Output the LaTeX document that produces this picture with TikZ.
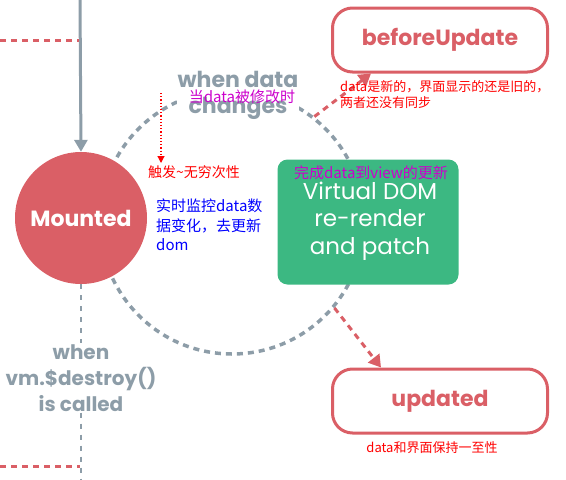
\documentclass[tikz,border=0pt]{standalone}
\usepackage{fontspec}
\setmainfont{Poppins}
\newfontfamily\cjk{Noto Sans CJK SC}
\usetikzlibrary{arrows.meta}
\definecolor{vred}{HTML}{DA5F66}
\definecolor{vgray}{HTML}{8D9DA8}
\definecolor{vgreen}{HTML}{3CB882}
\definecolor{vmag}{HTML}{CC00CC}
\tikzset{
  hook/.style={draw=vred, line width=3pt, rounded corners=20pt, fill=white,
    minimum width=215pt, minimum height=64pt, text=vred,
    font=\fontsize{22}{26}\selectfont\bfseries},
  grayline/.style={vgray, line width=3.5pt, dash pattern=on 6pt off 5pt},
  redline/.style={vred, line width=3pt, dash pattern=on 6pt off 5pt},
  bigtip/.style={-{Triangle[length=12pt, width=14pt]}},
  caption/.style={text=vgray, align=center, inner sep=1pt,
    font=\fontsize{22}{26}\selectfont\bfseries},
  note/.style={inner sep=0pt, font=\cjk\fontsize{13}{16}\selectfont},
}
\begin{document}
\begin{tikzpicture}[x=1pt, y=-1pt]
    \useasboundingbox (0,0) rectangle (566,480);
    % the update loop
    \node[grayline, draw, circle, minimum size=264pt] (loop) at (232,222) {};
    \node[caption, fill=white] (changes) at (238,95) {when data\\changes};
    \node[note, text=vmag, font=\cjk\fontsize{15}{18}\selectfont] (changed) at (242,97) {当data被修改时};

    \node[circle, fill=vred, minimum size=132pt, text=white,
        font=\fontsize{22}{26}\selectfont\bfseries] (mounted) at (81,218) {Mounted};
    \node[fill=vgreen, rounded corners=10pt, minimum width=181pt, minimum height=125pt] (vdom) at (368,222) {};
    \node[text=white, align=center, font=\fontsize{23}{27.5}\selectfont] (vdomtext) at (370,221)
        {Virtual DOM\\re-render\\and patch};
    \node[note, text=vmag, font=\cjk\fontsize{15}{18}\selectfont] (vdomnote) at (371,173) {完成data到view的更新};

    \node[hook] (before) at (440,40) {beforeUpdate};
    \node[hook] (updated) at (440,401) {updated};

    % edges
    \coordinate (top) at (80,0);
    \draw[vgray, line width=3pt, -{Triangle[length=12pt, width=13pt]}] (top) -- (mounted.north);
    \coordinate (lt1) at (0,40);
    \coordinate (lt2) at (79,40);
    \draw[redline] (lt1) -- (lt2);
    \draw[redline, bigtip] (loop.52) -- ([xshift=40pt]before.south west);
    \draw[redline, bigtip] (loop.-40) -- ([xshift=50pt]updated.north west);

    \node[caption, font=\fontsize{20}{26}\selectfont\bfseries] (destroy) at (81,378) {when\\vm.\$destroy()\\is called};
    \coordinate (bottom) at (81,480);
    \draw[grayline, dash pattern=on 5pt off 6pt, line width=2.5pt] (mounted.south) -- (destroy.north);
    \draw[grayline, dash pattern=on 5pt off 6pt, line width=2.5pt] (destroy.south) -- (bottom);
    \coordinate (lb1) at (0,466);
    \coordinate (lb2) at (80,466);
    \draw[redline] (lb1) -- (lb2);

    % notes
    \coordinate (dot1) at (161,93);
    \coordinate (dot2) at (161,163);
    \draw[red, line width=1.2pt, dotted, -{Triangle[length=7pt, width=7pt]}] (dot1) -- (dot2);
    \node[note, text=red, anchor=west, font=\cjk\fontsize{14}{16}\selectfont] (trigger) at (148,172) {触发\textasciitilde 无穷次性};
    \node[note, text=blue, anchor=north west, align=left, font=\cjk\fontsize{15}{19.5}\selectfont]
        (watch) at (156,199) {实时监控data数\\据变化，去更新\\dom};
    \node[note, text=red, anchor=north west, align=left] (stale) at (340,80)
        {data是新的，界面显示的还是旧的，\\两者还没有同步};
    \node[note, text=red] (synced) at (432,448) {data和界面保持一至性};
\end{tikzpicture}
\end{document}
